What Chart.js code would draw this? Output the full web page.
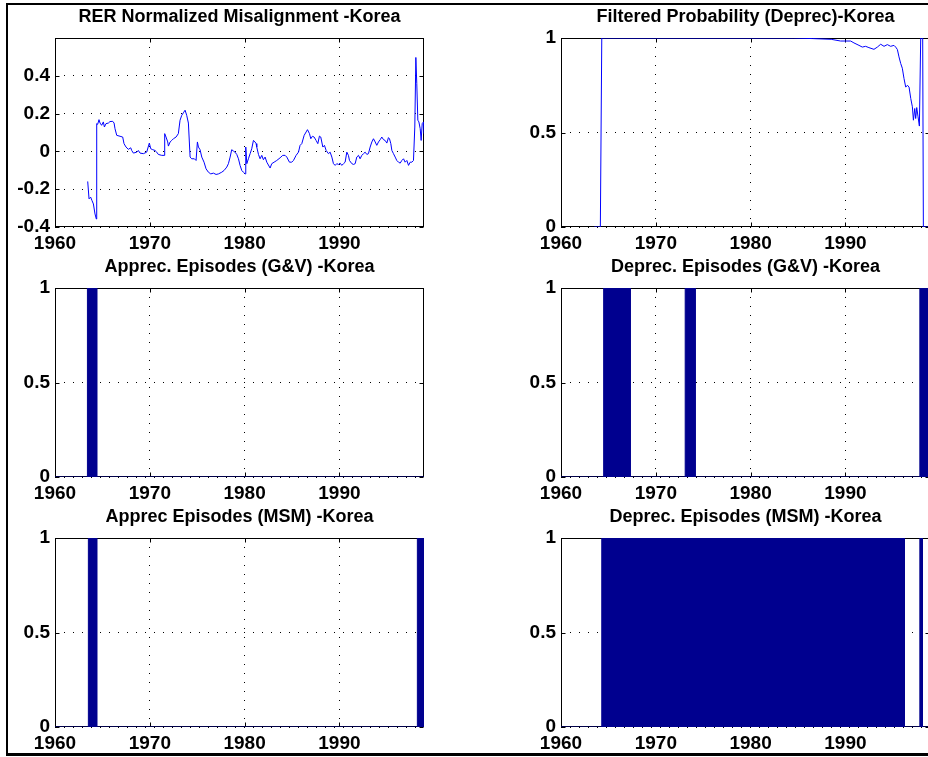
<!DOCTYPE html>
<html lang="en">
<head>
  <meta charset="UTF-8" />
  <title>Korea - RER Misalignment and Episodes</title>
  <script src="https://cdn.jsdelivr.net/npm/chart.js"></script>
  <style>
    html, body {
      margin: 0;
      padding: 0;
      background: #fff;
      overflow: hidden;
    }
    body {
      position: relative;
      width: 928px;
      height: 757px;
    }
    .frame {
      position: absolute;
      left: 6px;
      top: 3px;
      width: 1000px;
      height: 753px;
      box-sizing: border-box;
      border: 2px solid #000;
      border-bottom-width: 3px;
    }
    canvas {
      position: absolute;
    }
  </style>
</head>
<body>
  <div class="frame"></div>
  <canvas id="mis"       width="424" height="251" style="left:0;top:6px"></canvas>
  <canvas id="prob"      width="424" height="251" style="left:506px;top:6px"></canvas>
  <canvas id="apprecGV"  width="424" height="251" style="left:0;top:256px"></canvas>
  <canvas id="deprecGV"  width="424" height="251" style="left:506px;top:256px"></canvas>
  <canvas id="apprecMSM" width="424" height="251" style="left:0;top:506px"></canvas>
  <canvas id="deprecMSM" width="424" height="251" style="left:506px;top:506px"></canvas>

  <script>
    // time axis shared by all panels
    const xMin = 1960;
    const xMax = 1998.92;
    const xTicks = [1960, 1970, 1980, 1990];

    // RER normalized misalignment
    const misYears = [
      1963.45, 1963.59, 1963.76, 1963.90, 1964.05, 1964.22, 1964.36, 1964.40, 1964.50, 1964.64,
      1964.75, 1964.92, 1965.10, 1965.21, 1965.38, 1965.63, 1965.80, 1966.09, 1966.23, 1966.33,
      1966.51, 1966.86, 1967.14, 1967.28, 1967.49, 1967.74, 1967.99, 1968.09, 1968.27, 1968.62,
      1968.79, 1968.97, 1969.32, 1969.67, 1969.95, 1970.10, 1970.31, 1970.55, 1970.73, 1970.90,
      1971.26, 1971.50, 1971.57, 1971.71, 1971.89, 1971.96, 1972.14, 1972.31, 1972.49, 1972.77,
      1973.01, 1973.19, 1973.37, 1973.54, 1973.72, 1973.89, 1974.07, 1974.25, 1974.42, 1974.70,
      1974.88, 1975.02, 1975.13, 1975.30, 1975.48, 1975.72, 1975.93, 1976.18, 1976.43, 1976.71,
      1976.99, 1977.24, 1977.59, 1977.83, 1978.12, 1978.29, 1978.47, 1978.64, 1978.82, 1978.99,
      1979.17, 1979.35, 1979.52, 1979.70, 1979.87, 1980.05, 1980.12, 1980.23, 1980.40, 1980.58,
      1980.75, 1980.93, 1981.10, 1981.21, 1981.28, 1981.46, 1981.63, 1981.81, 1981.98, 1982.16,
      1982.34, 1982.69, 1982.86, 1983.11, 1983.39, 1983.74, 1984.02, 1984.27, 1984.45, 1984.73,
      1984.97, 1985.15, 1985.43, 1985.68, 1985.85, 1986.03, 1986.28, 1986.49, 1986.63, 1986.84,
      1986.98, 1987.15, 1987.33, 1987.54, 1987.72, 1987.89, 1988.03, 1988.25, 1988.42, 1988.60,
      1988.84, 1989.02, 1989.20, 1989.37, 1989.55, 1989.72, 1989.90, 1990.07, 1990.25, 1990.43,
      1990.60, 1990.78, 1990.95, 1991.06, 1991.31, 1991.48, 1991.66, 1991.83, 1992.01, 1992.18,
      1992.36, 1992.54, 1992.71, 1992.89, 1993.06, 1993.24, 1993.42, 1993.59, 1993.77, 1993.94,
      1994.12, 1994.30, 1994.47, 1994.65, 1994.82, 1995.00, 1995.17, 1995.28, 1995.42, 1995.53,
      1995.70, 1995.88, 1996.05, 1996.23, 1996.41, 1996.58, 1996.76, 1996.93, 1997.11, 1997.29,
      1997.46, 1997.64, 1997.81, 1997.95, 1998.06, 1998.16, 1998.27, 1998.38, 1998.52, 1998.62,
      1998.73, 1998.87, 1998.92
    ];
    const misValues = [
      -0.159, -0.251, -0.242, -0.260, -0.278, -0.331, -0.358, 0.147, 0.143, 0.168,
      0.150, 0.138, 0.156, 0.129, 0.147, 0.150, 0.158, 0.159, 0.150, 0.120,
      0.085, 0.080, 0.076, 0.041, 0.023, 0.011, 0.019, 0.005, -0.009, -0.004,
      0.005, -0.009, -0.012, -0.004, 0.044, 0.014, 0.009, 0.005, -0.004, -0.016,
      -0.021, -0.021, 0.094, 0.076, 0.050, 0.028, 0.050, 0.058, 0.067, 0.076,
      0.094, 0.165, 0.191, 0.204, 0.218, 0.191, 0.150, -0.030, -0.039, -0.039,
      -0.048, 0.050, 0.023, 0.009, -0.030, -0.057, -0.092, -0.110, -0.119, -0.115,
      -0.122, -0.119, -0.110, -0.101, -0.083, -0.065, -0.030, 0.009, 0.002, -0.004,
      -0.016, -0.039, -0.074, -0.101, -0.110, -0.119, 0.023, -0.065, -0.039, -0.012,
      0.014, 0.058, 0.050, 0.041, 0.023, -0.016, -0.039, -0.021, -0.044, -0.030,
      -0.057, -0.088, -0.065, -0.057, -0.048, -0.034, -0.021, -0.021, -0.030, -0.057,
      -0.057, -0.048, -0.021, -0.004, 0.032, 0.041, 0.085, 0.103, 0.115, 0.094,
      0.067, 0.080, 0.076, 0.058, 0.041, 0.081, 0.076, 0.023, 0.032, 0.005,
      -0.012, -0.004, -0.030, -0.065, -0.074, -0.065, -0.069, -0.062, -0.074, -0.065,
      -0.057, -0.004, -0.021, -0.048, -0.065, -0.069, -0.065, -0.030, -0.021, -0.039,
      -0.021, -0.012, -0.004, -0.016, -0.012, 0.023, 0.050, 0.067, 0.050, 0.032,
      0.050, 0.062, 0.076, 0.062, 0.058, 0.044, 0.073, 0.067, 0.041, 0.005,
      -0.012, -0.030, -0.048, -0.057, -0.062, -0.048, -0.039, -0.057, -0.048, -0.074,
      -0.057, -0.057, -0.048, 0.129, 0.497, 0.358, 0.165, 0.156, 0.120, 0.058,
      0.147, 0.156, 0.094
    ];
    const misTicks = [-0.4, -0.2, 0, 0.2, 0.4];

    // filtered probability of the depreciation regime
    const probYears = [
      1963.52, 1964.15, 1964.30, 1984.50, 1986.50, 1988.50, 1989.49, 1990.55, 1990.90, 1991.43,
      1991.78, 1992.13, 1992.48, 1993.01, 1993.37, 1993.72, 1994.07, 1994.42, 1994.77, 1995.12,
      1995.30, 1995.48, 1995.65, 1995.83, 1996.00, 1996.18, 1996.36, 1996.54, 1996.71, 1996.89,
      1997.06, 1997.17, 1997.31, 1997.41, 1997.52, 1997.66, 1997.80, 1997.94, 1998.15, 1998.22,
      1998.92
    ];
    const probValues = [
      0, 0, 1, 1, 0.997, 0.993, 0.984, 0.984, 0.974, 0.961,
      0.952, 0.956, 0.949, 0.940, 0.952, 0.967, 0.956, 0.965, 0.956, 0.961,
      0.952, 0.939, 0.900, 0.865, 0.840, 0.785, 0.740, 0.750, 0.740, 0.680,
      0.636, 0.565, 0.627, 0.574, 0.632, 0.583, 0.534, 1, 1, 0,
      0
    ];
    const unitTicks = [0, 0.5, 1];

    // episode spans [start, end], value 1 inside, 0 elsewhere
    const apprecGV = [[1963.42, 1964.40]];
    const deprecGV = [[1964.50, 1967.30], [1973.10, 1974.15], [1997.85, 1998.92]];
    const apprecMSM = [[1963.52, 1964.40], [1998.22, 1998.92]];
    const deprecMSM = [[1964.30, 1996.22], [1997.85, 1998.12]];

    const navy = '#00008f';
    const lineBlue = '#0000ff';
    const fontFamily = '"Liberation Sans", Arial, Helvetica, sans-serif';

    Chart.defaults.font.family = fontFamily;
    Chart.defaults.color = '#000';

    // step outline of the 0/1 episode series, baseline over the whole axis
    function episodePoints(spans) {
      const pts = [{ x: xMin, y: 0 }];
      spans.forEach(([s, e]) => {
        pts.push({ x: s, y: 0 }, { x: s, y: 1 }, { x: e, y: 1 }, { x: e, y: 0 });
      });
      pts.push({ x: xMax, y: 0 });
      return pts;
    }

    // axes box with inward tick marks
    const boxPlugin = {
      id: 'box',
      beforeDatasetsDraw(chart) {
        const { ctx, chartArea: a, scales } = chart;
        const l = Math.round(a.left) + 0.5;
        const t = Math.round(a.top) + 0.5;
        const r = Math.round(a.right) - 0.5;
        const b = Math.round(a.bottom) - 0.5;
        const len = 4;
        ctx.save();
        ctx.strokeStyle = '#000';
        ctx.lineWidth = 1;
        ctx.strokeRect(l, t, r - l, b - t);
        ctx.beginPath();
        scales.x.ticks.forEach(tk => {
          const px = Math.round(scales.x.getPixelForValue(tk.value)) + 0.5;
          ctx.moveTo(px, b); ctx.lineTo(px, b - len);
          ctx.moveTo(px, t); ctx.lineTo(px, t + len);
        });
        scales.y.ticks.forEach(tk => {
          const py = Math.round(scales.y.getPixelForValue(tk.value)) + 0.5;
          ctx.moveTo(l, py); ctx.lineTo(l + len, py);
          ctx.moveTo(r, py); ctx.lineTo(r - len, py);
        });
        ctx.stroke();
        ctx.restore();
      }
    };

    function panel(id, title, datasets, yMin, yMax, yTicks) {
      const tickFont = { size: 19, weight: 'bold' };
      return new Chart(document.getElementById(id), {
        type: 'line',
        data: { datasets: datasets },
        options: {
          responsive: false,
          animation: false,
          events: [],
          layout: { padding: 0 },
          plugins: {
            legend: { display: false },
            tooltip: { enabled: false },
            title: {
              display: true,
              text: title,
              fullSize: false,
              color: '#000',
              font: { size: 18, weight: 'bold' },
              padding: { top: 0, bottom: 10.4 }
            }
          },
          scales: {
            x: {
              type: 'linear',
              min: xMin,
              max: xMax,
              afterBuildTicks: s => { s.ticks = xTicks.map(v => ({ value: v })); },
              afterFit: s => { s.height = 30; },
              grid: { color: '#000', lineWidth: 1, drawTicks: false },
              border: { display: false, dash: [1, 8] },
              ticks: {
                padding: 5,
                maxRotation: 0,
                autoSkip: false,
                font: tickFont,
                callback: v => String(v)
              }
            },
            y: {
              type: 'linear',
              min: yMin,
              max: yMax,
              afterBuildTicks: s => { s.ticks = yTicks.map(v => ({ value: v })); },
              afterFit: s => { s.width = 55; },
              grid: { color: '#000', lineWidth: 1, drawTicks: false },
              border: { display: false, dash: [1, 8] },
              ticks: {
                padding: 5,
                autoSkip: false,
                font: tickFont,
                callback: v => String(v)
              }
            }
          }
        },
        plugins: [boxPlugin]
      });
    }

    function seriesLine(xs, ys) {
      return {
        data: xs.map((x, i) => ({ x: x, y: ys[i] })),
        borderColor: lineBlue,
        borderWidth: 1,
        pointRadius: 0,
        tension: 0,
        fill: false
      };
    }

    function episodeBars(spans) {
      return {
        data: episodePoints(spans),
        borderColor: navy,
        backgroundColor: navy,
        borderWidth: 1,
        pointRadius: 0,
        tension: 0,
        fill: 'origin'
      };
    }

    panel('mis', 'RER Normalized Misalignment -Korea',
      [seriesLine(misYears, misValues)], -0.4, 0.6, misTicks);

    panel('prob', 'Filtered Probability (Deprec)-Korea',
      [seriesLine(probYears, probValues)], 0, 1, unitTicks);

    panel('apprecGV', 'Apprec. Episodes (G&V) -Korea',
      [episodeBars(apprecGV)], 0, 1, unitTicks);

    panel('deprecGV', 'Deprec. Episodes (G&V) -Korea',
      [episodeBars(deprecGV)], 0, 1, unitTicks);

    panel('apprecMSM', 'Apprec Episodes (MSM) -Korea',
      [episodeBars(apprecMSM)], 0, 1, unitTicks);

    panel('deprecMSM', 'Deprec. Episodes (MSM) -Korea',
      [episodeBars(deprecMSM)], 0, 1, unitTicks);
  </script>
</body>
</html>
